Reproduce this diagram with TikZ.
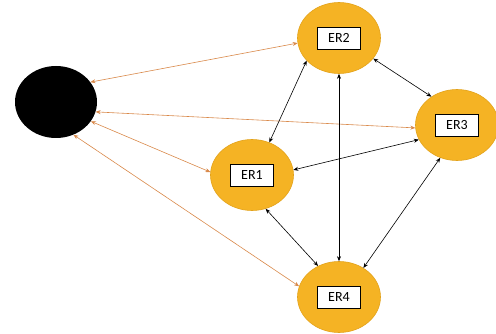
\documentclass[tikz,border=0pt]{standalone}
\usepackage{fontspec}
\setmainfont{Carlito}
\usetikzlibrary{shapes.geometric,arrows.meta}
\definecolor{gold}{HTML}{F5B324}
\definecolor{goldline}{HTML}{E3A21A}
\definecolor{orangeline}{HTML}{D9894A}
\tikzset{
  er/.style={ellipse, fill=gold, draw=goldline, line width=0.6pt, minimum width=83pt, minimum height=71pt, inner sep=0pt},
  lbl/.style={rectangle, draw=black, fill=white, line width=0.9pt, minimum width=43pt, minimum height=22pt, inner sep=1pt, font=\fontsize{14}{16}\selectfont},
  blk/.style={ellipse, fill=black, minimum width=82pt, minimum height=72pt, inner sep=0pt},
  olink/.style={draw=orangeline, line width=0.6pt, {Stealth[length=5pt,width=4pt]}-{Stealth[length=5pt,width=4pt]}},
  klink/.style={draw=black, line width=0.6pt, {Stealth[length=5pt,width=4pt]}-{Stealth[length=5pt,width=4pt]}}
}
\begin{document}
\begin{tikzpicture}[x=1pt,y=-1pt]
\useasboundingbox (0,0) rectangle (496,334);
\node[blk] (b) at (56,102) {};
\node[er] (er2) at (339,38) {};
\node[er] (er1) at (252,175) {};
\node[er] (er3) at (457,125) {};
\node[er] (er4) at (339,297) {};
\node[lbl] (l2) at (er2) {ER2};
\node[lbl] (l1) at (er1) {ER1};
\node[lbl] (l3) at (er3) {ER3};
\node[lbl] (l4) at (er4) {ER4};
% orange links
\draw[olink] (b.30) -- (er2.187);
\draw[olink] (b.-14) -- (er3.184);
\draw[olink] (b.-29) -- (er1.176);
\draw[olink] (b.-62) -- (er4.165);
% black links
\draw[klink] (er2.215) -- (er1.62);
\draw[klink] (er2.270) -- (er4.90);
\draw[klink] (er2.-31) -- (er3.132);
\draw[klink] (er1.7) -- (er3.201);
\draw[klink] (er1.-68) -- (er4.124);
\draw[klink] (er3.243) -- (er4.50);
\end{tikzpicture}
\end{document}
